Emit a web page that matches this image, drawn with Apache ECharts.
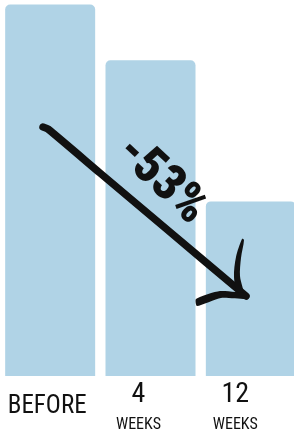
<!DOCTYPE html>
<html>
<head>
<meta charset="utf-8">
<style>
  html, body { margin: 0; padding: 0; background: #fff; }
  #chart { width: 294px; height: 431px; }
</style>
<script src="https://cdn.jsdelivr.net/npm/echarts@6/dist/echarts.min.js"></script>
</head>
<body>
<div id="chart"></div>
<script>
// Data
const categories = ['BEFORE', '4 WEEKS', '12 WEEKS'];
const values = [100, 85, 47];
const changeLabel = '-53%';

const COND = 'Roboto Condensed, Roboto, sans-serif';
const BAR_COLOR = '#b0d3e6';
const INK = '#111';

const chart = echarts.init(document.getElementById('chart'), null, { renderer: 'canvas' });

chart.setOption({
  animation: false,
  backgroundColor: '#fff',
  grid: { left: 0, width: 301, top: 4.5, bottom: 55, outerBoundsMode: 'none', containLabel: false },
  xAxis: {
    type: 'category',
    data: categories,
    axisLine: { show: false },
    axisTick: { show: false },
    axisLabel: {
      interval: 0,
      margin: 2,
      formatter: function (v, i) {
        if (i === 0) return '{b|' + v + '}';
        const p = v.split(' ');
        return '{n' + i + '|' + p[0] + '}\n{w' + i + '|' + p[1] + '}';
      },
      rich: {
        b:  { fontFamily: COND, fontSize: 25, lineHeight: 58, color: INK, padding: [0, 6, 0, 0] },
        n1: { fontFamily: COND, fontSize: 28, lineHeight: 33, color: INK, padding: [0, 24, 0, 0] },
        w1: { fontFamily: COND, fontSize: 16, lineHeight: 28, color: INK, padding: [0, 24, 0, 0] },
        n2: { fontFamily: COND, fontSize: 28, lineHeight: 33, color: INK, padding: [0, 31, 0, 0] },
        w2: { fontFamily: COND, fontSize: 16, lineHeight: 28, color: INK, padding: [0, 31, 0, 0] }
      }
    }
  },
  yAxis: { type: 'value', min: 0, max: 100, show: false },
  series: [{
    type: 'bar',
    data: values,
    barWidth: 90,
    itemStyle: { color: BAR_COLOR, borderRadius: [5, 5, 0, 0] },
    silent: true
  }]
});

// Hand-drawn arrow annotation and its label
chart.setOption({
  graphic: [
    {
      type: 'polyline', z: 100,
      shape: { points: [[43, 127], [48, 129], [100, 173], [170, 232], [246, 296]], smooth: 0.2 },
      style: { stroke: INK, lineWidth: 7.5, lineCap: 'round', lineJoin: 'round', fill: null }
    },
    {
      type: 'polygon', z: 100,
      shape: { points: [[242, 239], [244, 240], [241, 258], [240, 276], [244, 296], [238, 297], [234, 277], [236, 257]], smooth: 0.3 },
      style: { fill: INK }
    },
    {
      type: 'polygon', z: 100,
      shape: { points: [[196, 299], [220, 291], [248, 294], [248, 299], [221, 298], [197, 306]], smooth: 0.2 },
      style: { fill: INK }
    },
    {
      type: 'text', z: 100,
      x: 161, y: 181,
      rotation: -43 * Math.PI / 180,
      style: {
        text: changeLabel,
        fontFamily: COND,
        fontWeight: 900,
        fontSize: 50,
        fill: INK,
        align: 'center',
        verticalAlign: 'middle'
      }
    }
  ]
});
</script>
</body>
</html>
